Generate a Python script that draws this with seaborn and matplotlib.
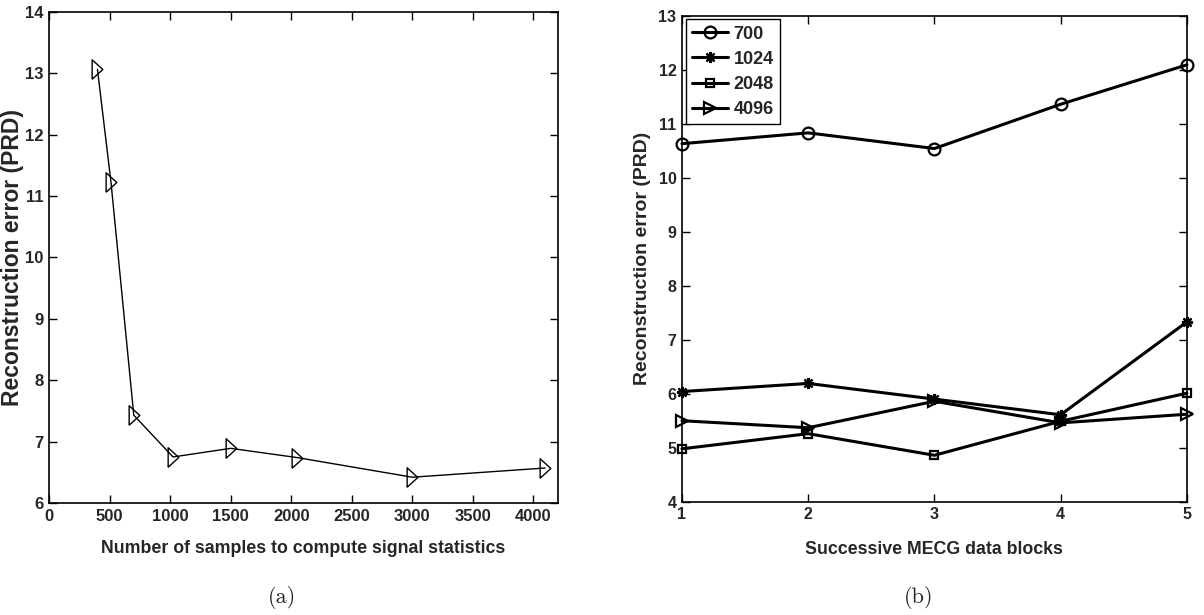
import matplotlib
matplotlib.use("Agg")
import matplotlib.pyplot as plt
import seaborn as sns
import pandas as pd

# ---- data (a) ----
samples = [400, 512, 700, 1024, 1500, 2048, 3000, 4096]
prd_a = [13.06, 11.22, 7.43, 6.75, 6.89, 6.74, 6.42, 6.57]

# ---- data (b) ----
blocks = [1, 2, 3, 4, 5]
series_names = ["700", "1024", "2048", "4096"]
prd_700 = [10.63, 10.83, 10.54, 11.36, 12.09]
prd_1024 = [6.04, 6.19, 5.90, 5.61, 7.33]
prd_2048 = [4.98, 5.26, 4.86, 5.49, 6.01]
prd_4096 = [5.50, 5.37, 5.86, 5.46, 5.62]

sns.set_theme(style="ticks")
plt.rcParams['font.family'] = ['Liberation Sans', 'DejaVu Sans']
plt.rcParams['xtick.direction'] = 'in'
plt.rcParams['ytick.direction'] = 'in'
plt.rcParams['axes.edgecolor'] = 'black'
plt.rcParams['axes.linewidth'] = 1.2

fig = plt.figure(figsize=(12.04, 6.15), dpi=100)
ax1 = fig.add_axes([0.0407, 0.1821, 0.4225, 0.7989])
ax2 = fig.add_axes([0.5664, 0.1842, 0.4194, 0.7903])

# slim right-pointing triangle like MATLAB's '>'
tri = [(-0.55, -1.0), (0.55, 0.0), (-0.55, 1.0), (-0.55, -1.0)]

# ---- panel (a) ----
df_a = pd.DataFrame({"samples": samples, "prd": prd_a})
sns.lineplot(data=df_a, x="samples", y="prd", ax=ax1, color="black", lw=1.0,
             marker=tri, markersize=14, markerfacecolor="none",
             markeredgecolor="black", markeredgewidth=1.0, clip_on=False)
ax1.set_xlim(0, 4200)
ax1.set_ylim(6, 14)
ax1.set_xticks(range(0, 4001, 500))
ax1.set_yticks(range(6, 15))
ax1.tick_params(axis="both", which="both", top=True, right=True, length=6,
                width=1.0, pad=4, color="black", labelsize=12)
for lab in ax1.get_xticklabels() + ax1.get_yticklabels():
    lab.set_fontweight("bold")
ax1.set_xlabel("Number of samples to compute signal statistics",
               fontsize=12.8, fontweight="bold")
ax1.xaxis.set_label_coords(0.5, -0.075)
ax1.set_ylabel("Reconstruction error (PRD)", fontsize=16.5, fontweight="bold")
ax1.yaxis.set_label_coords(-0.05, 0.5)

# ---- panel (b) ----
markers = {"700": "o", "1024": (8, 2, 0), "2048": "s", "4096": ">"}
msizes = {"700": 8.5, "1024": 8, "2048": 6, "4096": 9}
series = {"700": prd_700, "1024": prd_1024, "2048": prd_2048, "4096": prd_4096}
for name in series_names:
    sns.lineplot(x=blocks, y=series[name], ax=ax2, color="black", lw=2.2,
                 marker=markers[name], markersize=msizes[name],
                 markerfacecolor="none", markeredgecolor="black",
                 markeredgewidth=1.6, label=name, clip_on=False)
ax2.set_xlim(1, 5)
ax2.set_ylim(4, 13)
ax2.set_xticks(blocks)
ax2.set_yticks(range(4, 14))
ax2.tick_params(axis="both", which="both", top=True, right=True, length=6,
                width=1.0, labelsize=11.5, pad=4, color="black")
for lab in ax2.get_xticklabels() + ax2.get_yticklabels():
    lab.set_fontweight("bold")
ax2.set_xlabel("Successive MECG data blocks", fontsize=12.8,
               fontweight="bold")
ax2.xaxis.set_label_coords(0.5, -0.08)
ax2.set_ylabel("Reconstruction error (PRD)", fontsize=14, fontweight="bold")
ax2.yaxis.set_label_coords(-0.061, 0.5)
leg = ax2.legend(loc="upper left", frameon=True, fancybox=False,
                 handlelength=2.0, handletextpad=0.3, borderpad=0.35,
                 labelspacing=0.45, borderaxespad=0.2,
                 prop={"weight": "bold", "size": 13})
leg.get_frame().set_edgecolor("black")
leg.get_frame().set_linewidth(1.0)
leg.get_frame().set_alpha(1.0)

# ---- captions ----
fig.text(0.234, 0.028, "(a)", ha="center", va="center",
         fontsize=16, family=["cmr10", "DejaVu Serif"])
fig.text(0.763, 0.028, "(b)", ha="center", va="center",
         fontsize=16, family=["cmr10", "DejaVu Serif"])

fig.savefig("out.png", dpi=100)
